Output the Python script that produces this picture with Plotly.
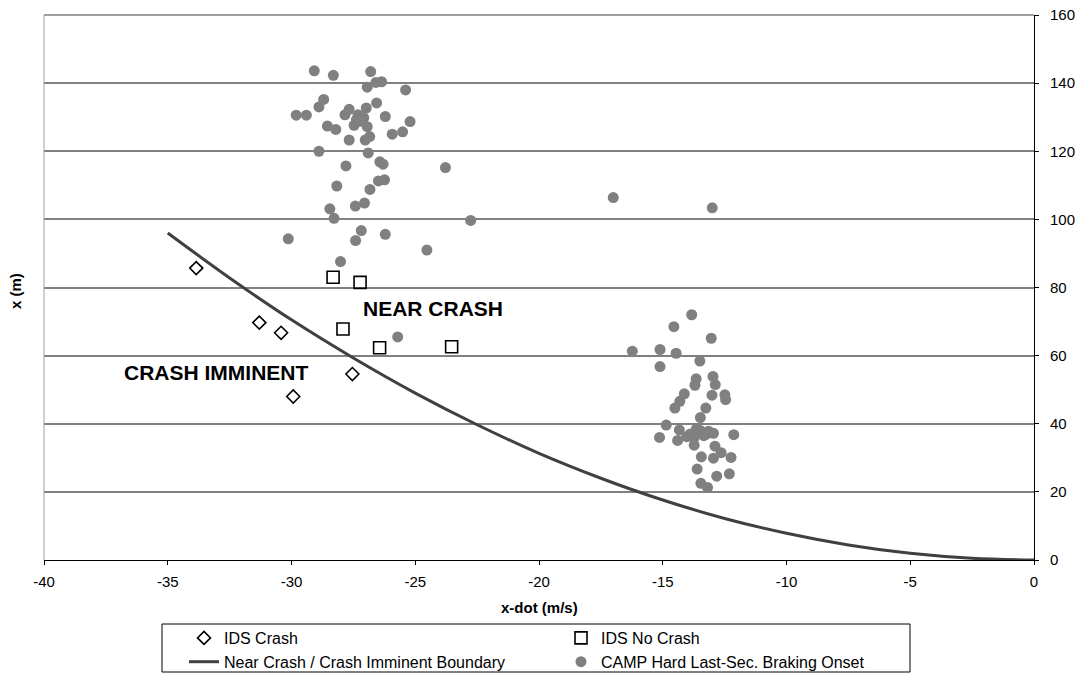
import plotly.graph_objects as go

# IDS Crash (diamonds)
crash_x = [-33.85, -31.30, -30.42, -27.54, -29.93]
crash_y = [85.7, 69.7, 66.7, 54.6, 48.0]

# IDS No Crash (squares)
nocrash_x = [-28.32, -27.23, -27.92, -26.44, -23.53]
nocrash_y = [83.0, 81.5, 67.8, 62.3, 62.6]

# Near Crash / Crash Imminent boundary
bound_x = [-35, -32.5, -30, -27.5, -25, -22.5, -20, -17.5, -15, -12.5, -10, -7.5, -5, -2.5, 0]
bound_y = [96.0, 82.8, 70.5, 59.3, 49.0, 39.7, 31.3, 24.0, 17.6, 12.2, 7.84, 4.41, 1.96, 0.49, 0]

# CAMP hard last-second braking onset
camp_x = [-29.08, -28.31, -26.80, -26.36, -26.59, -26.94, -25.39, -28.70, -28.89, -26.56,
          -29.81, -29.40, -27.67, -27.84, -26.98, -27.31, -26.21, -25.21, -28.55, -28.21,
          -27.47, -27.22, -26.94, -26.84, -27.02, -27.67, -25.93, -25.51, -28.89, -26.90,
          -27.80, -26.43, -26.30, -23.78, -28.17, -26.49, -26.24, -26.83, -28.45, -28.28,
          -27.42, -27.05, -22.76, -30.13, -27.18, -27.41, -26.21, -24.53, -28.02, -25.71,
          -17.00, -13.00, -27.08, -27.38,
          -13.83, -14.55, -13.04, -16.23, -15.11, -14.46, -15.11, -13.50, -13.65, -13.70,
          -12.97, -12.88, -13.01, -12.49, -12.46, -14.13, -14.31, -14.51, -13.26, -13.48,
          -14.86, -15.13, -14.33, -14.40, -13.89, -13.48, -13.22, -13.73, -12.13, -12.89,
          -12.64, -12.24, -13.44, -12.95, -13.61, -12.82, -12.31, -13.46, -13.19,
          -13.54, -13.34, -13.15, -12.95, -14.03, -13.64, -13.74]
camp_y = [143.6, 142.3, 143.4, 140.4, 140.2, 138.8, 138.0, 135.2, 133.0, 134.2,
          130.6, 130.6, 132.3, 130.7, 132.7, 130.7, 130.2, 128.7, 127.4, 126.4,
          127.6, 128.8, 127.2, 124.3, 123.3, 123.3, 125.0, 125.7, 120.0, 119.5,
          115.7, 116.9, 116.2, 115.2, 109.8, 111.3, 111.6, 108.8, 103.1, 100.3,
          103.9, 104.8, 99.7, 94.3, 96.7, 93.8, 95.6, 91.0, 87.6, 65.5,
          106.4, 103.4, 129.8, 129.2,
          72.0, 68.5, 65.1, 61.3, 61.8, 60.7, 56.8, 58.4, 53.2, 51.3,
          53.9, 51.5, 48.4, 48.5, 47.1, 48.8, 46.6, 44.6, 44.6, 41.8,
          39.6, 36.0, 38.2, 35.1, 37.0, 38.0, 37.0, 33.7, 36.8, 33.4,
          31.5, 30.1, 30.3, 29.9, 26.7, 24.6, 25.3, 22.5, 21.3,
          37.5, 36.5, 37.8, 37.2, 36.2, 38.5, 35.8]

x_ticks = [-40, -35, -30, -25, -20, -15, -10, -5, 0]
y_ticks = [0, 20, 40, 60, 80, 100, 120, 140, 160]

FONT = "Liberation Sans, Arial, sans-serif"

# plot-area geometry (pixels)
L, R, T, B = 44, 48, 15, 115
PW, PH = 1082 - L - R, 675 - T - B


def px_x(p):
    return (p - L) / PW


def px_y(p):
    return (675 - B - p) / PH


fig = go.Figure()
fig.add_trace(go.Scatter(x=crash_x, y=crash_y, mode="markers", name="IDS Crash",
                         marker=dict(symbol="diamond-open", size=10, color="black",
                                     line=dict(width=1.6, color="black"))))
fig.add_trace(go.Scatter(x=nocrash_x, y=nocrash_y, mode="markers", name="IDS No Crash",
                         marker=dict(symbol="square-open", size=12, color="black",
                                     line=dict(width=1.6, color="black"))))
fig.add_trace(go.Scatter(x=bound_x, y=bound_y, mode="lines", name="Near Crash / Crash Imminent Boundary",
                         line=dict(color="#404040", width=3, shape="spline")))
fig.add_trace(go.Scatter(x=camp_x, y=camp_y, mode="markers", name="CAMP Hard Last-Sec. Braking Onset",
                         marker=dict(symbol="circle", size=11, color="#808080")))

fig.add_annotation(x=-24.30, y=73.9, text="<b>NEAR CRASH</b>", showarrow=False,
                   font=dict(family=FONT, size=21, color="black"), xanchor="center", yanchor="middle")
fig.add_annotation(x=-29.26, y=55.1, text="<b>CRASH IMMINENT</b>", showarrow=False,
                   font=dict(family=FONT, size=21, color="black"), xanchor="right", yanchor="middle")

fig.update_layout(
    width=1082, height=675,
    margin=dict(l=L, r=R, t=T, b=B, autoexpand=False),
    paper_bgcolor="white", plot_bgcolor="white",
    font=dict(family=FONT, size=15, color="black"),
    showlegend=True,
    legend=dict(orientation="h", x=px_x(184), xanchor="left", y=px_y(621), yanchor="top",
                entrywidth=332, entrywidthmode="pixels",
                borderwidth=0, bgcolor="rgba(0,0,0,0)",
                font=dict(family=FONT, size=16), tracegroupgap=0, itemwidth=30),
    xaxis=dict(range=[-40, 0], tickvals=x_ticks, ticktext=[str(v) for v in x_ticks],
               showgrid=False, zeroline=False,
               showline=True, linecolor="black", linewidth=1, mirror=False,
               ticks="outside", ticklen=4, tickcolor="black",
               tickfont=dict(size=15), ticklabelstandoff=4),
    yaxis=dict(range=[0, 160], tickvals=y_ticks, ticktext=[str(v) for v in y_ticks],
               side="right", showgrid=True,
               gridcolor="#808080", gridwidth=1.5, zeroline=False,
               showline=True, linecolor="black", linewidth=1,
               ticks="outside", ticklen=4, tickcolor="black", tickfont=dict(size=15),
               ticklabelstandoff=8),
)
# left border and top line of plot area
fig.add_shape(type="line", xref="paper", yref="paper", x0=0, x1=0, y0=0, y1=1,
              line=dict(color="#a0a0a0", width=1))
fig.add_shape(type="line", xref="paper", yref="paper", x0=0, x1=1, y0=1, y1=1,
              line=dict(color="#808080", width=1.5))
# legend box
fig.add_shape(type="rect", xref="paper", yref="paper",
              x0=px_x(162), x1=px_x(910), y0=px_y(672), y1=px_y(624),
              line=dict(color="black", width=1), fillcolor="rgba(0,0,0,0)")
fig.add_annotation(xref="paper", yref="paper", x=0.5, y=px_y(607), text="<b>x-dot (m/s)</b>",
                   showarrow=False, font=dict(size=15), xanchor="center", yanchor="middle")
fig.add_annotation(xref="paper", yref="paper", x=px_x(15), y=px_y(291), text="<b>x (m)</b>",
                   textangle=-90, showarrow=False, font=dict(size=15), xanchor="center", yanchor="middle")

fig.write_html("out.html", post_script="document.body.style.margin='0';",
               config={"displayModeBar": False})
